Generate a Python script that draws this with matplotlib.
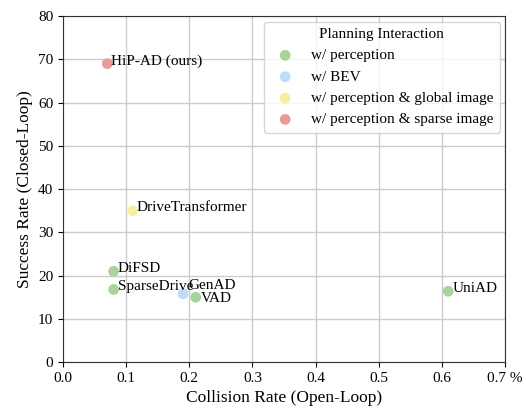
import matplotlib
matplotlib.use("Agg")
import matplotlib.pyplot as plt

plt.rcParams['font.family'] = ['Liberation Serif', 'DejaVu Serif']

methods = ["HiP-AD (ours)", "DriveTransformer", "DiFSD", "SparseDrive", "GenAD", "VAD", "UniAD"]
collision = [0.07, 0.11, 0.08, 0.08, 0.19, 0.21, 0.61]
success = [69.0, 35.0, 21.0, 16.8, 15.8, 15.0, 16.4]
groups = ["w/ perception & sparse image", "w/ perception & global image", "w/ perception",
          "w/ perception", "w/ BEV", "w/ perception", "w/ perception"]
legend_order = ["w/ perception", "w/ BEV", "w/ perception & global image", "w/ perception & sparse image"]
group_colors = {"w/ perception": "#a8d39b", "w/ BEV": "#bddcf5",
                "w/ perception & global image": "#f4f0a2", "w/ perception & sparse image": "#eb9a9c"}
xticks = [0.0, 0.1, 0.2, 0.3, 0.4, 0.5, 0.6, 0.7]
xticklabels = ["0.0", "0.1", "0.2", "0.3", "0.4", "0.5", "0.6", "0.7 %"]

fig = plt.figure(figsize=(5.26, 4.12), dpi=100)
ax = fig.add_axes([0.12, 0.121, 0.84, 0.84])
ax.set_axisbelow(True)
ax.grid(True, color="#cccccc", linewidth=1.0)

for g in legend_order:
    xs = [c for c, gg in zip(collision, groups) if gg == g]
    ys = [s for s, gg in zip(success, groups) if gg == g]
    ax.scatter(xs, ys, s=60, color=group_colors[g], label=g, zorder=3, edgecolors='none')

offsets = {"GenAD": (4, 6), "VAD": (4, -1)}
for m, x, y in zip(methods, collision, success):
    off = offsets.get(m, (3, 2))
    ax.annotate(m, (x, y), xytext=off, textcoords="offset points",
                fontsize=11, va="center", ha="left")

ax.set_xlim(0, 0.7)
ax.set_ylim(0, 80)
ax.set_xticks(xticks)
ax.set_xticklabels(xticklabels)
ax.set_yticks(range(0, 81, 10))
ax.tick_params(labelsize=11)
ax.set_xlabel("Collision Rate (Open-Loop)", fontsize=12.5)
ax.set_ylabel("Success Rate (Closed-Loop)", fontsize=12.5)
for sp in ax.spines.values():
    sp.set_color("#333333")

leg = ax.legend(title="Planning Interaction", loc="upper right", fontsize=11, title_fontsize=11,
                handletextpad=0.7, borderpad=0.4, labelspacing=0.5, borderaxespad=0,
                bbox_to_anchor=(0.988, 0.983))
leg.get_frame().set_edgecolor("#cccccc")

fig.savefig("out.png", dpi=100)
